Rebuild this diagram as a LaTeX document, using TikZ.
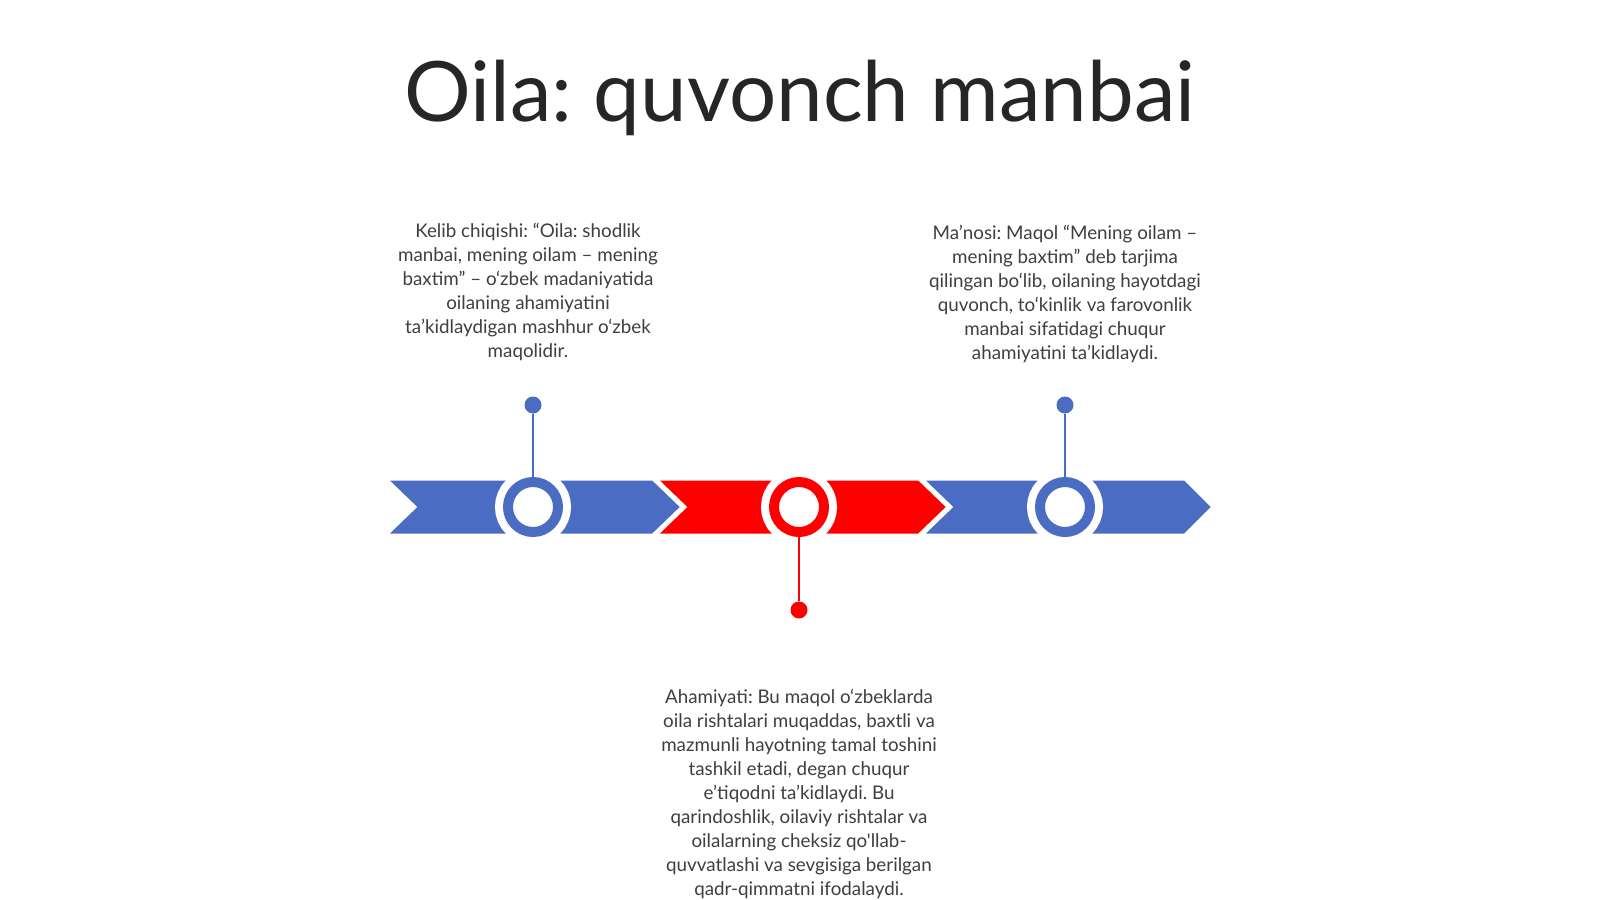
\documentclass[tikz,border=0pt]{standalone}
\usepackage{fontspec}
\newfontfamily\lato{Lato}
\definecolor{tlblue}{HTML}{4A6CC3}
\definecolor{tlred}{HTML}{FF0000}
\definecolor{txtgray}{HTML}{3F3F3F}
\definecolor{titlegray}{HTML}{262626}
\frenchspacing
\tikzset{
  seg/.style={draw=white, line width=1.5pt, line join=miter},
  ring/.style={circle, inner sep=0pt, minimum size=25pt, fill=white, draw=#1, line width=5pt,
    preaction={draw=white, line width=13pt}},
  dot/.style={circle, inner sep=0pt, minimum size=8.5pt, fill=#1},
  stem/.style={draw=#1, line width=1.3pt},
  body/.style={align=center, text=txtgray, font=\lato\fontsize{9.4}{12}\selectfont, inner sep=0pt},
  headline/.style={text=titlegray, font=\lato\fontsize{41.7}{48}\selectfont, inner sep=0pt}
}
\begin{document}
\begin{tikzpicture}[x=0.5pt,y=-0.5pt]
\fill[white] (0,0) rectangle (1600,899);
\useasboundingbox (0,0) rectangle (1600,899);

\node[headline, anchor=base] (title) at (800,122) {Oila: quvonch manbai};

% chevron segments
\filldraw[seg, fill=tlblue] (386,479) -- (653,479) -- (682,507) -- (653,535) -- (386,535) -- (415,507) -- cycle;
\filldraw[seg, fill=tlred] (656,479) -- (919,479) -- (948,507) -- (919,535) -- (656,535) -- (685,507) -- cycle;
\filldraw[seg, fill=tlblue] (922,479) -- (1185,479) -- (1213,507) -- (1185,535) -- (922,535) -- (951,507) -- cycle;

% rings
\node[ring=tlblue] (c1) at (533,507) {};
\node[ring=tlred]  (c2) at (799,507) {};
\node[ring=tlblue] (c3) at (1065,507) {};

% dots and stems
\node[dot=tlblue] (d1) at (533,405) {};
\node[dot=tlred]  (d2) at (799,610) {};
\node[dot=tlblue] (d3) at (1065,405) {};
\draw[stem=tlblue] (d1) -- (c1);
\draw[stem=tlred]  (d2) -- (c2);
\draw[stem=tlblue] (d3) -- (c3);

% texts
\node[body] (t1) at (528,292) {Kelib chiqishi: “Oila: shodlik\\manbai, mening oilam – mening\\baxtim” – o‘zbek madaniyatida\\oilaning ahamiyatini\\ta’kidlaydigan mashhur o‘zbek\\maqolidir.};
\node[body] (t3) at (1065,294) {Ma’nosi: Maqol “Mening oilam –\\mening baxtim” deb tarjima\\qilingan bo‘lib, oilaning hayotdagi\\quvonch, to‘kinlik va farovonlik\\manbai sifatidagi chuqur\\ahamiyatini ta’kidlaydi.};
\node[body] (t2) at (799,794) {Ahamiyati: Bu maqol o‘zbeklarda\\oila rishtalari muqaddas, baxtli va\\mazmunli hayotning tamal toshini\\tashkil etadi, degan chuqur\\e’tiqodni ta’kidlaydi. Bu\\qarindoshlik, oilaviy rishtalar va\\oilalarning cheksiz qo'llab-\\quvvatlashi va sevgisiga berilgan\\qadr-qimmatni ifodalaydi.};
\end{tikzpicture}
\end{document}
